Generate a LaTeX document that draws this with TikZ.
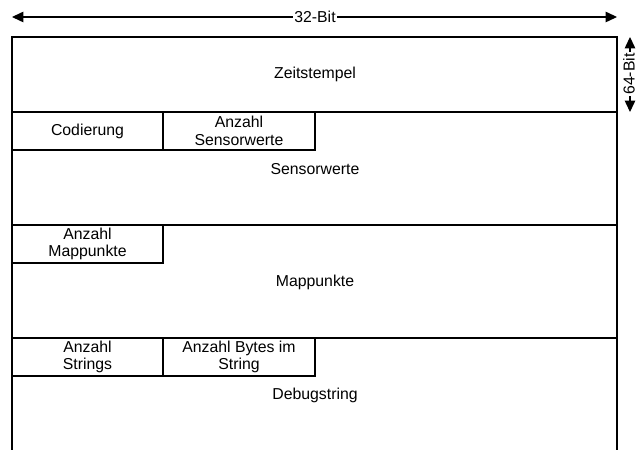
\documentclass[tikz,border=0pt]{standalone}
\usepackage{fontspec}
\setmainfont{Liberation Sans}
\usetikzlibrary{arrows.meta}

\begin{document}
\begin{tikzpicture}[x=0.2mm,y=-0.2mm,line width=0.6pt,font=\fontsize{9}{10}\selectfont]
  \tikzstyle{field}=[draw,rectangle,inner sep=0pt,minimum height=7.6mm,align=center]
  \tikzstyle{span}=[{Triangle[length=6.5pt,width=6pt]}-{Triangle[length=6.5pt,width=6pt]}]
  \useasboundingbox (0,0) rectangle (637,450);

  % frame, open at the bottom
  \coordinate (F1) at (12,450);
  \coordinate (F2) at (12,37);
  \coordinate (F3) at (617,37);
  \coordinate (F4) at (617,450);
  \draw (F1) -- (F2) -- (F3) -- (F4);

  \coordinate (R1l) at (12,112);  \coordinate (R1r) at (617,112);
  \coordinate (R2l) at (12,225);  \coordinate (R2r) at (617,225);
  \coordinate (R3l) at (12,338);  \coordinate (R3r) at (617,338);
  \draw (R1l) -- (R1r);
  \draw (R2l) -- (R2r);
  \draw (R3l) -- (R3r);

  % header fields
  \node[field,minimum width=30.2mm] (cod) at (87.5,131)  {Codierung};
  \node[field,minimum width=30.4mm] (nsw) at (239,131)   {Anzahl\\Sensorwerte};
  \node[field,minimum width=30.2mm] (nmp) at (87.5,244)  {Anzahl\\Mappunkte};
  \node[field,minimum width=30.2mm] (nst) at (87.5,357)  {Anzahl\\Strings};
  \node[field,minimum width=30.4mm] (nby) at (239,357)   {Anzahl Bytes im\\String};

  % payload labels
  \node (zeit) at (315,74)  {Zeitstempel};
  \node (sens) at (315,169) {Sensorwerte};
  \node (mapp) at (315,282) {Mappunkte};
  \node (dbg)  at (315,395) {Debugstring};

  % dimensions
  \coordinate (W1) at (12,17);
  \coordinate (W2) at (617,17);
  \draw[span] (W1) -- (W2);
  \node[fill=white,inner sep=1pt] (w) at (315,17) {32-Bit};

  \coordinate (H1) at (630,37);
  \coordinate (H2) at (630,112);
  \draw[span] (H1) -- (H2);
  \node[fill=white,inner sep=0.5pt,rotate=90] (h) at (629,74) {64-Bit};
\end{tikzpicture}
\end{document}
